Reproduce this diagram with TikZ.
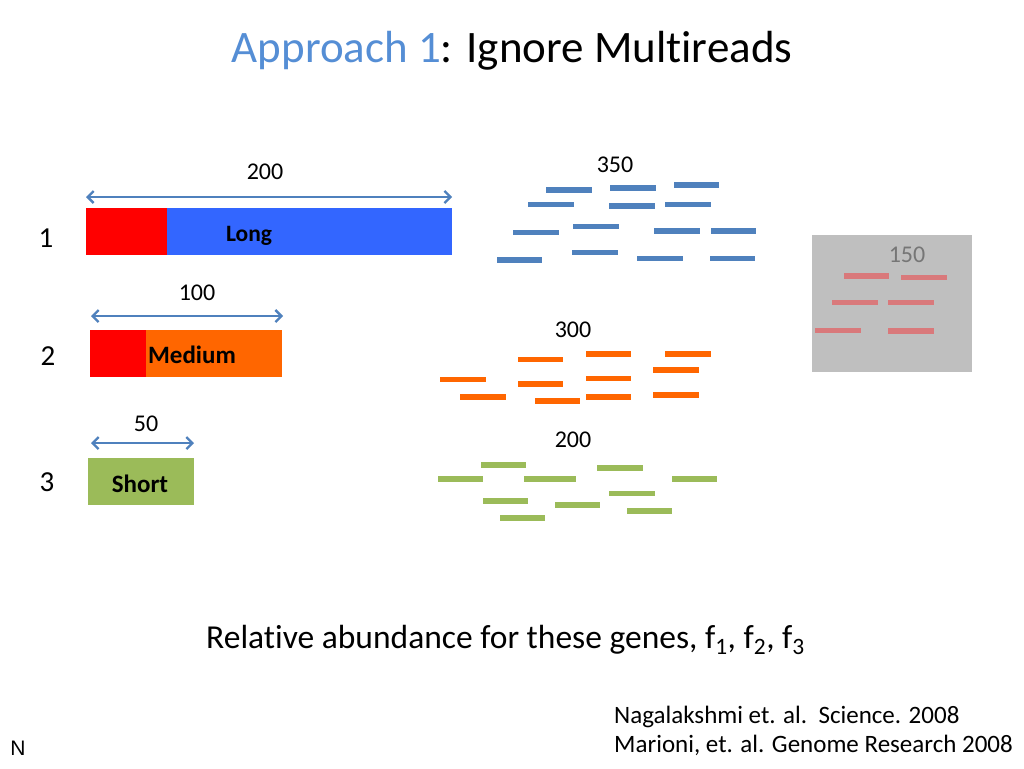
\documentclass[tikz,border=0pt]{standalone}
\usepackage{fontspec}
\setmainfont{Carlito}[Ligatures={NoCommon}]
\newfontfamily\arialfont{Liberation Sans}
\usetikzlibrary{arrows.meta}
\definecolor{titleblue}{RGB}{85,142,213}
\definecolor{readblue}{RGB}{79,129,189}
\definecolor{readorange}{RGB}{255,102,0}
\definecolor{readgreen}{RGB}{155,187,89}
\definecolor{readpink}{RGB}{217,121,123}
\definecolor{boxgray}{RGB}{191,191,191}
\definecolor{longblue}{RGB}{51,102,255}
\definecolor{medorange}{RGB}{255,102,0}
\definecolor{shortgreen}{RGB}{155,187,89}
\definecolor{numgray}{RGB}{118,118,118}
\tikzset{
  rd/.style={line width=5.5pt, line cap=butt},
  lenarrow/.style={draw=readblue, line width=2.3pt, {Straight Barb[length=6pt,width=12pt,line width=2.3pt]}-{Straight Barb[length=6pt,width=12pt,line width=2.3pt]}},
  num/.style={font=\fontsize{24}{28}\selectfont, inner sep=0pt},
  rownum/.style={font=\fontsize{29}{33}\selectfont, inner sep=0pt},
  barlabel/.style={font=\fontsize{25}{29}\selectfont\bfseries, inner sep=0pt},
}
\begin{document}
\begin{tikzpicture}[x=1pt,y=-1pt]
\useasboundingbox[fill=white] (0,0) rectangle (1024,768);
% title
\node[font=\fontsize{45}{54}\selectfont, inner sep=0pt] (title) at (512,51) {\textcolor{titleblue}{Approach 1}: Ignore Multireads};

% row numbers
\node[rownum] (r1) at (46,238) {1};
\node[rownum] (r2) at (48,356) {2};
\node[rownum] (r3) at (47,482) {3};

% gene 1 long
\fill[longblue] (86,208) rectangle (452,255);
\fill[red] (86,208) rectangle (167,255);
\node[barlabel, font=\fontsize{23.5}{28}\selectfont\bfseries] (long) at (249,236) {Long};
\coordinate (a1l) at (86,197);
\coordinate (a1r) at (452,197);
\draw[lenarrow] (a1l) -- (a1r);
\node[num] (n200a) at (265,172) {200};

% gene 2 medium
\fill[medorange] (90,330) rectangle (282,377);
\fill[red] (90,330) rectangle (146,377);
\node[barlabel] (medium) at (192,355) {Medium};
\coordinate (a2l) at (91,316);
\coordinate (a2r) at (283,316);
\draw[lenarrow] (a2l) -- (a2r);
\node[num] (n100) at (197,293) {100};

% gene 3 short
\fill[shortgreen] (88,458) rectangle (194,505);
\node[barlabel] (short) at (140,484) {Short};
\coordinate (a3l) at (91,443);
\coordinate (a3r) at (194,443);
\draw[lenarrow] (a3l) -- (a3r);
\node[num] (n50) at (146,424) {50};

% blue reads
\node[num] (n350) at (615,165) {350};
\foreach \xa/\xb/\y in {546/592/190, 610/656/188, 674/719/185, 528/574/204.5, 609/655/206, 665/711/204.5,
  513/559/232.5, 573/619/226.5, 654/700/231, 711/756/231, 497/542/260, 572/618/252.5, 637/683/258.5, 710/755/258.5}
  \draw[rd, readblue] (\xa,\y) -- (\xb,\y);

% orange reads
\node[num] (n300) at (573,330) {300};
\foreach \xa/\xb/\y in {518/563/359.5, 586/631/354, 665/711/354, 653/699/370, 440/486/379.5, 518/563/384,
  586/631/378.5, 460/506/397, 535/580/401, 586/631/397, 653/699/395}
  \draw[rd, readorange] (\xa,\y) -- (\xb,\y);

% green reads
\node[num] (n200b) at (573,440) {200};
\foreach \xa/\xb/\y in {481/526/465, 597/643/468, 438/483/479, 524/576/479, 672/717/479, 609/655/493.5,
  483/528/501, 555/600/505, 627/672/511, 500/545/518}
  \draw[rd, readgreen] (\xa,\y) -- (\xb,\y);

% gray box with multireads
\fill[boxgray] (812,235) rectangle (972,372);
\node[num, text=numgray] (n150) at (907,255) {150};
\foreach \xa/\xb/\y in {844/889/276, 901/947/277.5, 832/878/302.5, 888/934/302.5, 815/861/330.5, 888/934/331}
  \draw[rd, readpink] (\xa,\y) -- (\xb,\y);

% bottom text
\node[font=\fontsize{33.5}{38}\selectfont, inner sep=0pt] (abund) at (505.5,640) {Relative abundance for these genes, f\textsubscript{1}, f\textsubscript{2}, f\textsubscript{3}};
\node[font=\fontsize{25}{29}\selectfont, inner sep=0pt, anchor=west, align=left] (cite) at (614,731) {Nagalakshmi et. al.\ \ Science. 2008\\Marioni, et. al. Genome Research 2008};
\node[font=\arialfont\fontsize{21}{25}\selectfont, inner sep=0pt] (nn) at (18,748) {N};
\end{tikzpicture}
\end{document}
